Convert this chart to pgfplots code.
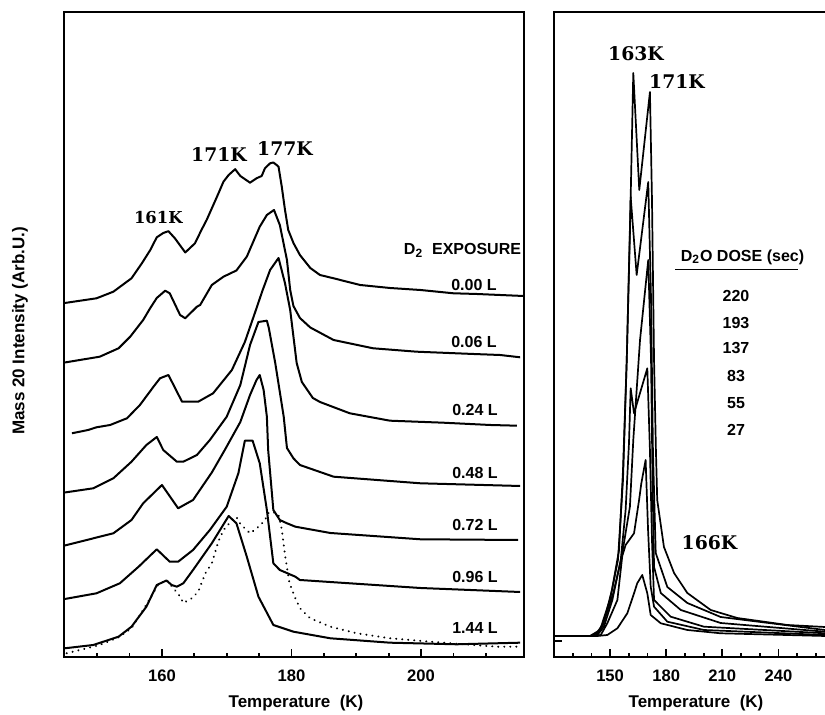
\documentclass[border=0pt]{standalone}
\usepackage{fontspec}
\setmainfont{Liberation Sans}
\newfontfamily\slab{DejaVu Serif}
\usepackage{pgfplots}
\pgfplotsset{compat=1.18}
\newcommand{\lab}{\bfseries\fontsize{8}{9.6}\selectfont}
\newcommand{\axl}{\bfseries\fontsize{8.5}{10}\selectfont}
\newcommand{\pk}{\slab\bfseries\fontsize{9.4}{11}\selectfont}
\newcommand{\pks}{\slab\bfseries\fontsize{8.2}{10}\selectfont}
\begin{document}
\begin{tikzpicture}
\pgfplotsset{
  panel/.style={
    scale only axis, anchor=south west, height=322.5pt,
    ymin=0, ymax=645, ytick=\empty,
    axis line style={line width=1pt},
    xtick pos=left, ytick pos=left, tick align=inside,
    major tick length=4pt, minor tick length=2pt,
    every tick/.style={black, line width=0.9pt},
    /pgf/number format/assume math mode=true,
    xticklabel style={font=\bfseries\fontsize{8.3}{10}\selectfont, yshift=-3pt},
  },
  crv/.style={black, line width=1pt, line join=round},
  rcrv/.style={black, line width=0.85pt, line join=round},
}
\begin{axis}[panel, at={(31.75pt,29pt)}, width=230.25pt, xmin=144.8, xmax=215.9,
  xtick={160,180,200}, minor xtick={150,155,165,170,175,185,190,195,205,210}]
% 0.00 L
\addplot[crv] coordinates {(145.0,354) (149.9,358.7) (152.5,365.3) (155.3,378.7) (156.9,393.7) (158.2,407) (159.2,419.7) (160.2,424) (161.0,425.8) (162.0,418.7) (163.6,404.5) (165.1,413.7) (166.1,427) (166.9,437) (168.5,460.3) (169.5,475.3) (170.3,482) (171.3,487.8) (172.1,481) (173.6,474.3) (174.6,478.7) (175.4,481) (175.9,488.7) (176.7,493.7) (177.2,494.5) (177.7,492) (178.0,490.3) (178.5,470.3) (179.0,447) (179.5,427) (180.3,414) (181.3,402) (182.9,389) (184.4,382) (186.5,378.7) (190.6,372) (195.2,369) (199.9,367) (205.0,363.7) (208.6,363) (212.2,362) (215.8,361)};
% 0.06 L
\addplot[crv] coordinates {(145.0,294.5) (150.4,300.3) (153.3,308.7) (155.1,320.3) (157.1,337) (158.2,349) (159.2,359) (160.5,366.3) (161.2,363.7) (162.8,342) (163.6,338.7) (165.4,350.3) (165.9,352) (167.7,372) (169.5,380.3) (171.5,386.5) (173.1,400.3) (175.1,430.3) (176.2,442) (177.3,447) (178.2,432) (179.3,397) (179.8,367) (180.3,351) (181.3,339) (182.9,329.5) (186.5,317) (192.6,308.7) (199.3,305.3) (208.1,303) (212.2,302) (215.3,299.7)};
% 0.24 L
\addplot[crv] coordinates {(146.1,223.7) (148.6,227) (149.9,229.7) (152.0,232) (154.6,238.7) (156.6,252) (158.7,270.3) (159.7,278.7) (161.0,282) (163.1,255.3) (165.6,255.3) (167.9,263.7) (170.8,287) (172.8,315) (174.4,345) (175.5,366) (176.7,387) (178.0,399) (179.0,373.7) (179.8,347) (180.8,294) (181.6,275) (183.3,259) (184.4,255) (189.0,243.7) (195.2,236.3) (203.4,234.3) (210.7,232) (214.8,231.3)};
% 0.48 L
\addplot[crv] coordinates {(145.0,164.5) (149.4,168.7) (152.5,178.7) (155.3,195.3) (157.6,212) (159.2,220) (160.2,207) (162.3,195.3) (163.3,195.3) (165.4,202) (167.4,217) (170.0,240.3) (172.1,272) (173.6,312) (174.9,335) (176.2,336.3) (176.5,329) (177.5,293.7) (178.8,240.3) (179.3,209) (180.3,198.7) (181.3,192) (186.5,180.3) (199.9,173.7) (215.3,171)};
% 0.72 L
\addplot[crv] coordinates {(145.0,111.5) (152.5,123.7) (155.3,137) (157.1,153.7) (160.0,172) (162.5,148.7) (164.8,157) (167.7,184.5) (169.7,207) (172.1,235) (173.6,262) (174.6,277) (175.1,282) (175.7,267) (176.2,240.3) (176.4,207) (177.2,147) (178.2,137) (179.3,133.7) (180.6,130.3) (186.0,124) (199.9,117.7) (215.0,117)};
% 0.96 L
\addplot[crv] coordinates {(145.0,58) (149.9,63.7) (153.5,73.7) (156.4,90.3) (159.2,107.7) (161.2,95.3) (162.5,95.3) (164.8,107) (167.4,127) (170.0,150.3) (171.8,183.7) (172.8,216.3) (174.0,216.3) (175.1,193.7) (176.2,147) (177.2,93.7) (178.2,87) (180.6,80.3) (181.3,77) (199.9,69) (215.3,65)};
% 1.44 L
\addplot[crv] coordinates {(145.0,8.7) (149.4,12) (153.3,20.3) (155.3,30.3) (157.6,50.3) (159.2,72) (160.2,75) (160.7,76.5) (161.5,72) (162.3,70.3) (163.3,73.7) (164.8,87) (167.7,113.7) (170.3,141) (171.5,133.7) (173.1,100.3) (174.9,60.3) (177.2,32) (180.3,25.3) (186.0,18.7) (195.2,14.3) (205.5,12.7) (215.3,14.3)};
% dotted
\addplot[black, line width=1.1pt, line cap=round, dash pattern=on 0.01pt off 3pt] coordinates {(145.3,3.7) (147.3,7) (150.4,12) (153.3,19.7) (155.3,28.7) (157.4,50.3) (159.4,72) (160.7,77) (162.0,67) (162.8,60.5) (163.3,54) (164.6,58.7) (165.6,65.3) (166.7,83.7) (167.7,93.7) (168.7,115.3) (169.5,127) (170.4,133.7) (171.5,140) (172.2,132) (173.1,127) (173.6,123.7) (174.4,127.7) (175.1,131) (175.9,137) (176.4,143.7) (177.1,145.3) (178.0,142) (178.5,127.7) (179.0,102) (179.7,73.7) (180.6,58.7) (181.3,48.7) (182.9,38.7) (186.0,30.3) (190.1,23.7) (195.2,18.7) (201.4,15.3) (208.1,12) (211.7,10.3) (215.3,10.3)};
\end{axis}
\begin{axis}[panel, at={(277pt,29pt)}, width=138.38pt, xmin=120, xmax=268,
  xtick={150,180,210,240}, minor xtick={130,140,160,170,190,200,220,230,250,260},
  ytick={16}, yticklabels={}]
% 220
\addplot[rcrv] coordinates {(120,21) (139.3,21) (142.8,22) (146.2,32) (151.0,67) (154.8,107) (156.9,187) (158.9,297) (160.6,424) (162.4,584) (165.6,467) (171.3,565) (172.4,457) (173.5,297) (174.5,207) (175.2,157) (178.8,110) (184.2,84) (191.3,64) (203.8,47) (218.0,39) (244.8,32) (264.9,30) (268,29.5)};
% 193
\addplot[rcrv] coordinates {(120,21) (139.3,21) (144.6,27) (149.9,57) (154.2,97) (156.9,177) (158.9,297) (161.0,460) (164.2,382) (170.4,475) (171.9,357) (172.9,207) (174.4,104) (180.6,70) (191.3,54) (209.1,40) (264.9,27) (268,26.7)};
% 137
\addplot[rcrv] coordinates {(120,21) (139.3,21) (142.8,23.7) (146.4,33.7) (151.7,63.7) (156.2,100.3) (160.6,150.3) (162.4,217) (164.2,267) (166.0,317) (170.4,397) (171.9,297) (172.7,177) (173.5,90) (177.1,64) (187.8,47) (209.1,34) (264.9,25.3) (268,25)};
% 83
\addplot[rcrv] coordinates {(120,21) (139.3,21) (143.2,22) (146.7,30.3) (151.2,57) (155.7,97) (158.3,147) (160.1,214) (161.0,268.7) (162.8,243.7) (169.9,288.7) (171.3,207) (172.4,117) (173.5,57) (182.4,40.3) (200.2,30.3) (264.9,23.7) (268,23.5)};
% 55
\addplot[rcrv] coordinates {(120,21) (140.3,21) (145.0,22) (148.5,33.7) (153.9,57) (156.5,101) (158.3,112) (162.8,123.7) (165.5,157) (166.7,173.7) (169.0,197) (170.3,127) (171.7,70.3) (173.5,50.3) (180.6,35.3) (200.2,27) (264.9,22) (268,22)};
% 27
\addplot[rcrv] coordinates {(120,21) (143.2,21) (148.5,22) (153.9,28.7) (159.2,43.7) (162.8,63.7) (164.5,73.7) (167.2,82) (169.9,63.7) (171.7,42) (177.1,33.7) (191.3,27) (209.1,23.7) (264.9,21) (268,21)};
\end{axis}
\begin{scope}[x=0.5pt,y=0.5pt]
\node[rotate=90, font=\axl] at (20,384) {Mass 20 Intensity (Arb.U.)};
\node[font=\axl] at (296,12) {Temperature\ \ (K)};
\node[font=\axl] at (696,12) {Temperature\ \ (K)};
\node[font=\pks] at (158.3,497) {161K};
\node[font=\pk] at (219,560) {171K};
\node[font=\pk] at (285,566) {177K};
\node[font=\pk] at (636,661) {163K};
\node[font=\pk] at (677,633) {171K};
\node[font=\pk] at (709.5,172.7) {166K};
\node[font=\lab] at (462.5,465) {D\textsubscript{2}\ \ EXPOSURE};
\node[font=\lab] at (474,430) {0.00\ L};
\node[font=\lab] at (474,373.3) {0.06\ L};
\node[font=\lab] at (475,305) {0.24\ L};
\node[font=\lab] at (475,242.3) {0.48\ L};
\node[font=\lab] at (475,190) {0.72\ L};
\node[font=\lab] at (475,138.3) {0.96\ L};
\node[font=\lab] at (475,87.3) {1.44\ L};
\node[font=\lab] at (742.5,458) {D\textsubscript{2}O DOSE (sec)};
\draw[line width=0.8pt] (675,445.3) -- (798.3,445.3);
\node[font=\lab] at (736,419) {220};
\node[font=\lab] at (736,392.3) {193};
\node[font=\lab] at (736,366.7) {137};
\node[font=\lab] at (736,339) {83};
\node[font=\lab] at (736,311.7) {55};
\node[font=\lab] at (736,285) {27};
\pgfresetboundingbox
\path[use as bounding box] (0,0) rectangle (825,715);
\end{scope}
\end{tikzpicture}
\end{document}
